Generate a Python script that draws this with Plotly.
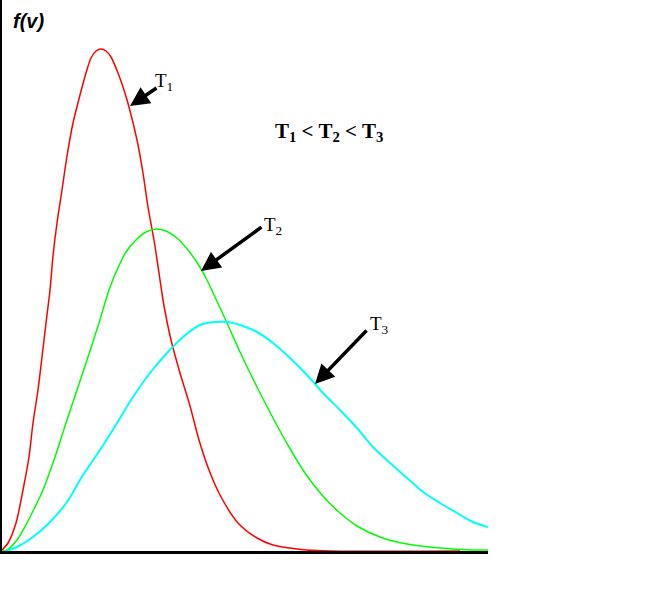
import plotly.graph_objects as go

# speed v and distribution f(v) (arbitrary units)
v_t1 = [0.02, 0.08, 0.16, 0.23, 0.29, 0.33, 0.38, 0.42, 0.46, 0.50, 0.53, 0.57, 0.62, 0.67,
        0.73, 0.80, 0.86, 0.91, 0.96, 1.01, 1.06, 1.11, 1.18, 1.24, 1.29, 1.37, 1.43, 1.48,
        1.54, 1.59, 1.64, 1.71, 1.80, 1.90, 1.99, 2.09, 2.20, 2.38, 2.57, 2.73, 2.90, 3.07,
        3.30, 4.60]
f_t1 = [0.02, 0.09, 0.29, 0.62, 0.95, 1.29, 1.62, 1.95, 2.29, 2.62, 2.96, 3.29, 3.62, 3.96,
        4.29, 4.57, 4.79, 4.94, 5.01, 5.03, 5.01, 4.95, 4.79, 4.62, 4.45, 4.12, 3.79, 3.45,
        3.12, 2.79, 2.46, 2.12, 1.79, 1.46, 1.12, 0.82, 0.57, 0.29, 0.14, 0.07, 0.04, 0.02,
        0.01, 0.01]

v_t2 = [0.02, 0.07, 0.17, 0.27, 0.35, 0.43, 0.55, 0.66, 0.77, 0.88, 0.99, 1.09, 1.17, 1.26,
        1.36, 1.46, 1.56, 1.66, 1.77, 1.88, 1.98, 2.07, 2.15, 2.27, 2.40, 2.57, 2.73, 2.89,
        3.05, 3.22, 3.40, 3.57, 3.80, 4.07, 4.40, 4.73, 4.88]
f_t2 = [0.01, 0.02, 0.12, 0.29, 0.45, 0.62, 0.95, 1.29, 1.62, 1.95, 2.29, 2.62, 2.82, 3.00,
        3.12, 3.20, 3.23, 3.21, 3.14, 3.02, 2.88, 2.72, 2.55, 2.29, 2.00, 1.65, 1.34, 1.05,
        0.79, 0.57, 0.39, 0.26, 0.15, 0.08, 0.04, 0.02, 0.02]

v_t3 = [0.03, 0.07, 0.17, 0.33, 0.50, 0.67, 0.83, 1.00, 1.17, 1.33, 1.50, 1.67, 1.83, 2.00,
        2.15, 2.28, 2.40, 2.57, 2.73, 2.90, 3.07, 3.23, 3.40, 3.57, 3.73, 3.90, 4.07, 4.23,
        4.40, 4.57, 4.73, 4.88]
f_t3 = [0.00, 0.01, 0.05, 0.15, 0.30, 0.50, 0.77, 1.02, 1.29, 1.55, 1.79, 1.99, 2.15, 2.27,
        2.30, 2.30, 2.27, 2.20, 2.09, 1.94, 1.77, 1.59, 1.42, 1.24, 1.05, 0.89, 0.74, 0.60,
        0.49, 0.39, 0.30, 0.25]

fig = go.Figure()

fig.add_trace(go.Scatter(x=v_t1, y=f_t1, mode="lines",
                         line=dict(color="#ff0000", width=1.5, shape="spline", smoothing=0.8)))
fig.add_trace(go.Scatter(x=v_t2, y=f_t2, mode="lines",
                         line=dict(color="#00ff00", width=1.5, shape="spline", smoothing=0.8)))
fig.add_trace(go.Scatter(x=v_t3, y=f_t3, mode="lines",
                         line=dict(color="#00ffff", width=2, shape="spline", smoothing=0.8)))

serif = "Liberation Serif"

# arrows: head at (x, y), tail at (ax, ay)
arrows = [
    (1.30, 4.46, 1.58, 4.65),
    (2.01, 2.81, 2.63, 3.26),
    (3.15, 1.68, 3.68, 2.23),
]
for x, y, ax, ay in arrows:
    fig.add_annotation(x=x, y=y, ax=ax, ay=ay, xref="x", yref="y", axref="x", ayref="y",
                       text="", showarrow=True, arrowhead=2, arrowsize=1.1,
                       arrowwidth=3.5, arrowcolor="black")

labels = [
    (1.64, 4.70, "T<sub>1</sub>"),
    (2.73, 3.26, "T<sub>2</sub>"),
    (3.79, 2.27, "T<sub>3</sub>"),
]
for x, y, t in labels:
    fig.add_annotation(x=x, y=y, text=t, showarrow=False,
                       font=dict(family=serif, size=19, color="black"))

fig.add_annotation(x=3.29, y=4.20, text="<b>T<sub>1</sub> < T<sub>2</sub> < T<sub>3</sub></b>",
                   showarrow=False, font=dict(family=serif, size=21, color="black"))

fig.add_annotation(x=0.11, y=5.31, text="<b><i>f(v)</i></b>", showarrow=False, xanchor="left",
                   font=dict(family="Liberation Sans", size=20, color="black"))
fig.add_annotation(x=4.80, y=-0.29, text="<b><i>v</i></b>", showarrow=False,
                   font=dict(family="Liberation Sans", size=20, color="black"))

fig.update_layout(
    width=667,
    height=594,
    showlegend=False,
    paper_bgcolor="white",
    plot_bgcolor="white",
    margin=dict(l=2, r=179, t=0, b=43),
    xaxis=dict(
        range=[0.02, 4.88],
        showgrid=False,
        zeroline=False,
        showticklabels=False,
        ticks="",
        showline=True,
        linecolor="black",
        linewidth=3
    ),
    yaxis=dict(
        range=[0.01, 5.52],
        showgrid=False,
        zeroline=False,
        showticklabels=False,
        ticks="",
        showline=True,
        linecolor="black",
        linewidth=2
    )
)

fig.write_html("out.html", config={"displayModeBar": False},
               post_script="document.body.style.margin='0';")
